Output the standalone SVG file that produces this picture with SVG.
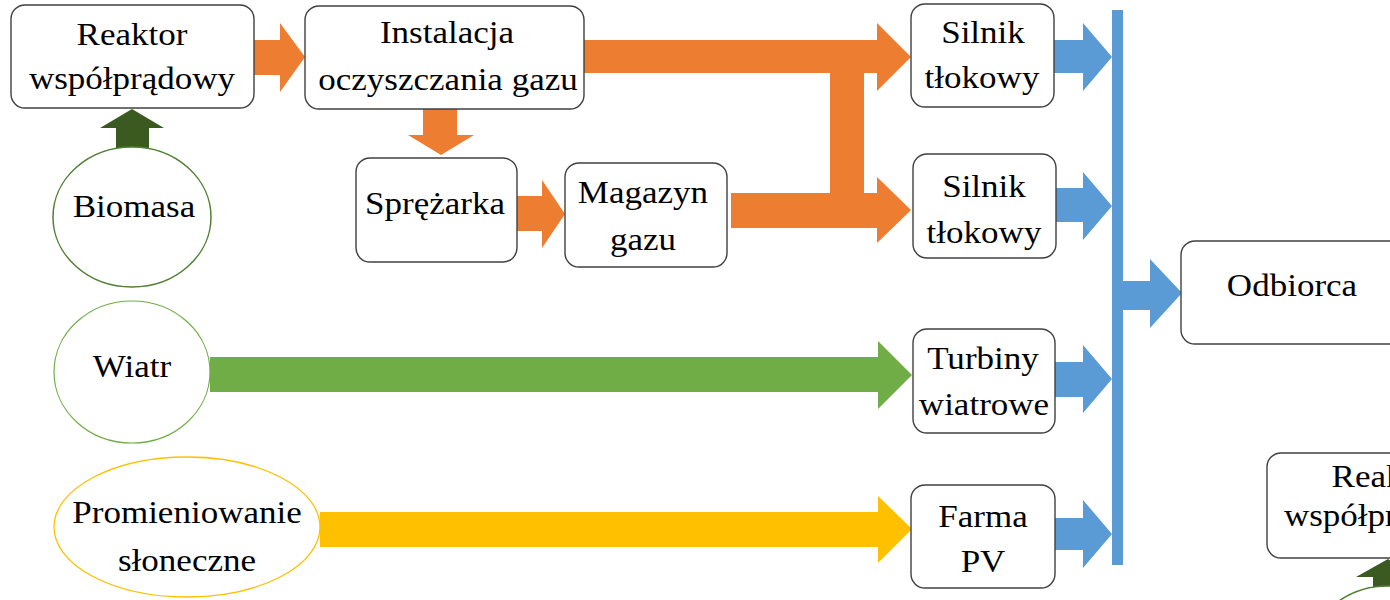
<svg xmlns="http://www.w3.org/2000/svg" width="1390" height="600" viewBox="0 0 1390 600">
<style>
.box{fill:#fff;stroke:#404040;stroke-width:1.4}
.t{font-family:"Liberation Serif","Times New Roman",serif;font-size:31px;text-anchor:middle;fill:#000}
.or{fill:#ED7D31}.bl{fill:#5B9BD5}.gr{fill:#70AD47}.ye{fill:#FFC000}.dg{fill:#3A5A22}
</style>
<rect width="1390" height="600" fill="#fff"/>
<g id="connectors">
<polygon class="or" points="254,40 280,40 280,23 305,57 280,92 280,75 254,75"/>
<polygon class="or" points="584,40 877,40 877,23 911,57 877,91 877,73 584,73"/>
<rect class="or" x="830" y="72" width="34" height="122"/>
<polygon class="or" points="731,193 877,193 877,177 911,210 877,243 877,228 731,228"/>
<polygon class="or" points="423,109 457,109 457,135 474,135 441,155 408,135 423,135"/>
<polygon class="or" points="517,196 542,196 542,180 565,214 542,248 542,231 517,231"/>
<polygon class="bl" points="1054,40 1083,40 1083,23 1112,57 1083,91 1083,73 1054,73"/>
<polygon class="bl" points="1056,188 1083,188 1083,172 1112,206 1083,240 1083,222 1056,222"/>
<polygon class="bl" points="1055,362 1083,362 1083,345 1112,379 1083,413 1083,397 1055,397"/>
<polygon class="bl" points="1055,518 1083,518 1083,500 1112,534 1083,568 1083,550 1055,550"/>
<rect class="bl" x="1112" y="10" width="11" height="555"/>
<polygon class="bl" points="1123,281 1150,281 1150,259 1182,293 1150,328 1150,310 1123,310"/>
<polygon class="gr" points="210,357 878,357 878,341 912,375 878,409 878,392 210,392"/>
<polygon class="ye" points="320,512 878,512 878,496 912,529 878,563 878,547 320,547"/>
<polygon class="dg" points="116,149 116,128 100,128 132,109 164,128 149,128 149,149"/>
<polygon class="dg" points="1373,592 1373,577 1356,577 1388,559 1420,577 1404,577 1404,592"/>
</g>
<g id="reaktor">
<rect class="box" x="11" y="5" width="243" height="103" rx="14"/>
<text class="t" transform="translate(132,45) scale(1.13,1)">Reaktor</text>
<text class="t" transform="translate(132,89) scale(1.13,1)">współprądowy</text>
</g>
<g id="instalacja">
<rect class="box" x="305" y="6" width="279" height="103" rx="14"/>
<text class="t" transform="translate(447,43) scale(1.13,1)">Instalacja</text>
<text class="t" transform="translate(448,90) scale(1.13,1)">oczyszczania gazu</text>
</g>
<g id="sprezarka">
<rect class="box" x="356" y="158" width="161" height="104" rx="14"/>
<text class="t" transform="translate(435,214) scale(1.13,1)">Sprężarka</text>
</g>
<g id="magazyn">
<rect class="box" x="565" y="163" width="162" height="104" rx="14"/>
<text class="t" transform="translate(643,203) scale(1.13,1)">Magazyn</text>
<text class="t" transform="translate(643,250) scale(1.13,1)">gazu</text>
</g>
<g id="silnik1">
<rect class="box" x="911" y="4" width="143" height="103" rx="14"/>
<text class="t" transform="translate(983,43) scale(1.13,1)">Silnik</text>
<text class="t" transform="translate(982,88) scale(1.13,1)">tłokowy</text>
</g>
<g id="silnik2">
<rect class="box" x="913" y="154" width="143" height="104" rx="14"/>
<text class="t" transform="translate(984,197) scale(1.13,1)">Silnik</text>
<text class="t" transform="translate(984,243) scale(1.13,1)">tłokowy</text>
</g>
<g id="turbiny">
<rect class="box" x="913" y="329" width="142" height="104" rx="14"/>
<text class="t" transform="translate(983,369) scale(1.13,1)">Turbiny</text>
<text class="t" transform="translate(984,415) scale(1.13,1)">wiatrowe</text>
</g>
<g id="farma">
<rect class="box" x="911" y="485" width="144" height="103" rx="14"/>
<text class="t" transform="translate(983,527) scale(1.13,1)">Farma</text>
<text class="t" transform="translate(983,572) scale(1.13,1)">PV</text>
</g>
<g id="odbiorca">
<rect class="box" x="1181" y="241" width="260" height="103" rx="14"/>
<text class="t" transform="translate(1292,296) scale(1.13,1)">Odbiorca</text>
</g>
<g id="biomasa">
<ellipse cx="132" cy="217" rx="79" ry="70" fill="#fff" stroke="#507E32" stroke-width="1.5"/>
<text class="t" transform="translate(134,217) scale(1.13,1)">Biomasa</text>
</g>
<g id="wiatr">
<ellipse cx="132" cy="372" rx="78" ry="71" fill="#fff" stroke="#70AD47" stroke-width="1.2"/>
<text class="t" transform="translate(132,377) scale(1.13,1)">Wiatr</text>
</g>
<g id="promieniowanie">
<ellipse cx="187" cy="527" rx="133" ry="70" fill="#fff" stroke="#FFC000" stroke-width="1.3"/>
<text class="t" transform="translate(187,523) scale(1.13,1)">Promieniowanie</text>
<text class="t" transform="translate(187,571) scale(1.13,1)">słoneczne</text>
</g>
<g id="reaktor2">
<rect class="box" x="1267" y="453" width="243" height="105" rx="14"/>
<text class="t" transform="translate(1387,487) scale(1.13,1)">Reaktor</text>
<text class="t" transform="translate(1387,526) scale(1.13,1)">współprądowy</text>
</g>
<g id="biomasa2">
<ellipse cx="1388" cy="656" rx="79" ry="70" fill="#fff" stroke="#507E32" stroke-width="1.5"/>
</g>
</svg>
